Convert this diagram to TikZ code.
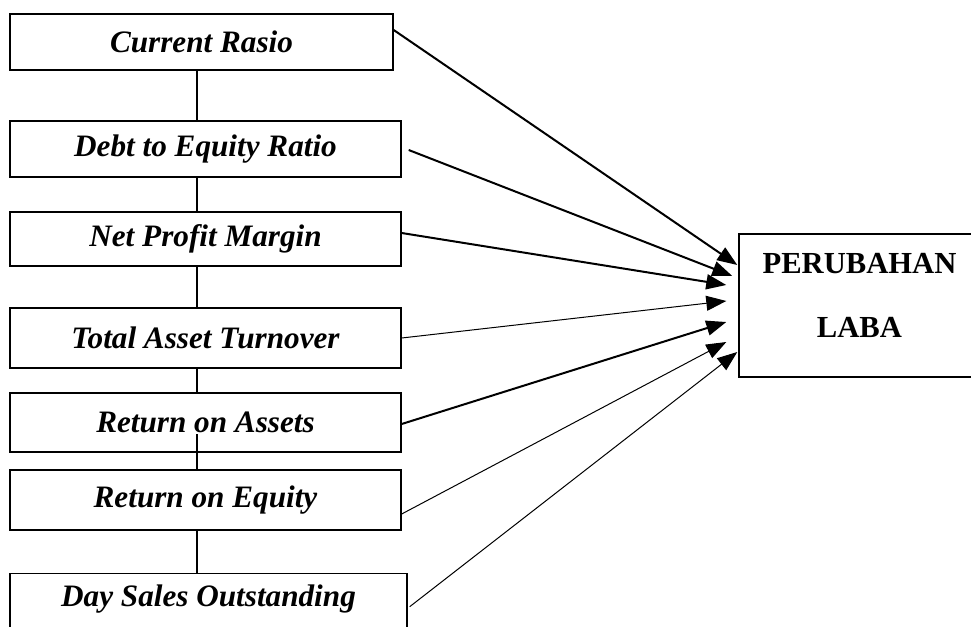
\documentclass[tikz,border=0pt]{standalone}
\usepackage{fontspec}
\setmainfont{Liberation Serif}
\usetikzlibrary{arrows.meta,calc}
\begin{document}
\begin{tikzpicture}[x=0.5pt,y=-0.5pt,
    var/.style={draw,line width=0.7pt,inner sep=0pt,
      font=\fontsize{15.6}{18}\selectfont\bfseries\itshape},
    hasil/.style={draw,line width=0.7pt,inner sep=0pt,align=center,
      minimum width=120.5pt,minimum height=71.5pt,
      font=\fontsize{15.3}{18}\selectfont\bfseries},
    tebal/.style={line width=1pt,-{Triangle[length=10pt,width=7.5pt]}},
    tipis/.style={line width=0.5pt,-{Triangle[length=10pt,width=7.5pt]}}]
      \clip (0,0) rectangle (971,627);

      \node[var,minimum width=191.5pt,minimum height=28pt] (cr) at (201.5,42) {Current Rasio};
      \node[var,minimum width=195.5pt,minimum height=28pt] (der) at (205.5,149) {Debt to Equity Ratio};
      \node[var,minimum width=195.5pt,minimum height=27pt] (npm) at (205.5,239) {Net Profit Margin};
      \node[var,minimum width=195.5pt,minimum height=30pt] (tato) at (205.5,338) {Total Asset Turnover};
      \node[var,minimum width=195.5pt,minimum height=29.5pt] (roa) at (205.5,422.5) {Return on Assets};
      \node[var,minimum width=195.5pt,minimum height=30pt] (roe) at (205.5,500) {Return on Equity};
      \node[var,minimum width=198.5pt,minimum height=29pt,anchor=north] (dso) at (208.5,573) {\raisebox{2pt}[\height][\depth]{Day Sales Outstanding}};

      \node[hasil] (laba) at (859.5,305.5) {\raisebox{3.5pt}[\height][\depth]{\begin{tabular}{@{}c@{}}PERUBAHAN\\[14pt]LABA\end{tabular}}};

      % garis tengah
      \coordinate (spine) at (197,0);
      \draw[line width=0.6pt] (cr.south -| spine) -- (der.north -| spine);
      \draw[line width=0.6pt] (der.south -| spine) -- (npm.north -| spine);
      \draw[line width=0.6pt] (npm.south -| spine) -- (tato.north -| spine);
      \draw[line width=0.6pt] (tato.south -| spine) -- (roa.north -| spine);
      \draw[line width=0.6pt] (roe.north -| spine) -- ++(0,-35);
      \draw[line width=0.6pt] (roe.south -| spine) -- (dso.north -| spine);

      % panah ke perubahan laba
      \draw[tebal] ($(cr.east)+(0,-12)$) -- ($(laba.west)+(-1,-40.5)$);
      \draw[tebal] ($(der.east)+(7,1)$) -- ($(laba.west)+(-6,-29.5)$);
      \draw[tebal] ($(npm.east)+(0,-6)$) -- ($(laba.west)+(-12,-20.5)$);
      \draw[tipis] (tato.east) -- ($(laba.west)+(-12,-4.5)$);
      \draw[tebal] ($(roa.east)+(0,1.5)$) -- ($(laba.west)+(-12,16.5)$);
      \draw[tipis] ($(roe.east)+(0,14)$) -- ($(laba.west)+(-12,36.5)$);
      \draw[tipis] ($(dso.east)+(2,4)$) -- ($(laba.west)+(-1,46.5)$);

    \end{tikzpicture}
\end{document}
